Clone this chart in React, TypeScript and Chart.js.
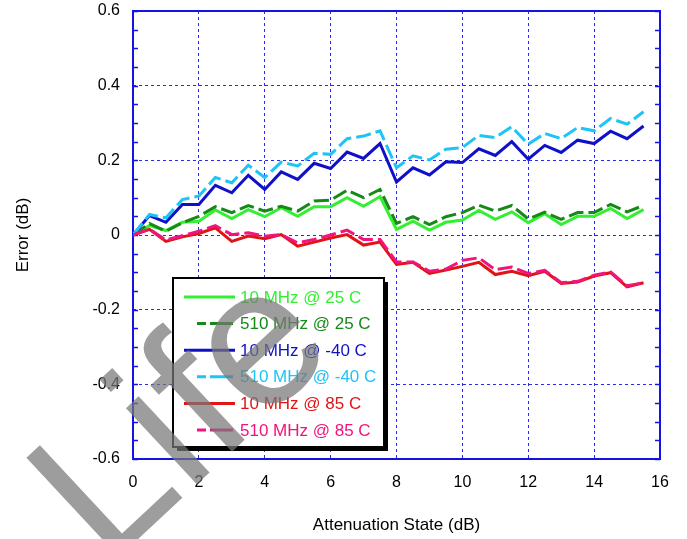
import React, { useEffect, useRef } from 'react';
import { Chart, registerables } from 'chart.js';

Chart.register(...registerables);

// Attenuation states (dB)
const ATTEN_STATES = [
  0, 0.5, 1, 1.5, 2, 2.5, 3, 3.5, 4, 4.5, 5, 5.5, 6, 6.5, 7, 7.5,
  8, 8.5, 9, 9.5, 10, 10.5, 11, 11.5, 12, 12.5, 13, 13.5, 14, 14.5, 15, 15.5,
];

const ERR_10M_25C = [
  0, 0.025, 0.012, 0.034, 0.037, 0.067, 0.044, 0.068, 0.049, 0.073, 0.05, 0.076, 0.076, 0.1, 0.077, 0.103,
  0.015, 0.037, 0.013, 0.034, 0.04, 0.066, 0.042, 0.062, 0.033, 0.057, 0.028, 0.05, 0.05, 0.071, 0.044, 0.068,
];
const ERR_510M_25C = [
  0, 0.031, 0.01, 0.033, 0.05, 0.076, 0.06, 0.079, 0.064, 0.077, 0.064, 0.091, 0.093, 0.12, 0.1, 0.122,
  0.031, 0.049, 0.028, 0.049, 0.06, 0.08, 0.064, 0.079, 0.043, 0.061, 0.042, 0.06, 0.06, 0.082, 0.062, 0.079,
];
const ERR_10M_M40C = [
  0, 0.052, 0.034, 0.082, 0.082, 0.133, 0.113, 0.16, 0.122, 0.169, 0.149, 0.192, 0.178, 0.222, 0.205, 0.245,
  0.142, 0.18, 0.161, 0.196, 0.194, 0.231, 0.213, 0.25, 0.203, 0.24, 0.221, 0.254, 0.245, 0.278, 0.258, 0.292,
];
const ERR_510M_M40C = [
  0, 0.055, 0.046, 0.095, 0.104, 0.154, 0.14, 0.187, 0.154, 0.195, 0.185, 0.219, 0.216, 0.258, 0.265, 0.279,
  0.18, 0.212, 0.201, 0.23, 0.234, 0.267, 0.261, 0.29, 0.243, 0.272, 0.258, 0.288, 0.279, 0.312, 0.297, 0.33,
];
const ERR_10M_85C = [
  0, 0.015, -0.017, -0.005, 0.004, 0.019, -0.017, -0.003, -0.01, 0.001, -0.03, -0.019, -0.008, 0.001, -0.027, -0.019,
  -0.079, -0.073, -0.103, -0.094, -0.084, -0.073, -0.106, -0.097, -0.109, -0.097, -0.13, -0.126, -0.11, -0.101, -0.139, -0.128,
];
const ERR_510M_85C = [
  0, 0.016, -0.013, -0.002, 0.01, 0.025, 0.001, 0.006, -0.003, 0.001, -0.021, -0.012, 0.0, 0.013, -0.012, -0.012,
  -0.072, -0.072, -0.097, -0.091, -0.068, -0.061, -0.093, -0.086, -0.103, -0.095, -0.128, -0.124, -0.108, -0.099, -0.136, -0.128,
];

const SERIES_LABELS = [
  '10 MHz @ 25 C',
  '510 MHz @ 25 C',
  '10 MHz @ -40 C',
  '510 MHz @ -40 C',
  '10 MHz @ 85 C',
  '510 MHz @ 85 C',
];
const SERIES_VALUES = [ERR_10M_25C, ERR_510M_25C, ERR_10M_M40C, ERR_510M_M40C, ERR_10M_85C, ERR_510M_85C];
const SERIES_COLORS = ['#33ee33', '#168a16', '#1010c8', '#1ec4f5', '#e01414', '#f0147c'];
const SERIES_DASHED = [false, true, false, true, false, true];

const X_TICK_LABELS = ['0', '2', '4', '6', '8', '10', '12', '14', '16'];
const Y_TICK_LABELS = ['-0.6', '-0.4', '-0.2', '0', '0.2', '0.4', '0.6'];
const X_TITLE = 'Attenuation State (dB)';
const Y_TITLE = 'Error (dB)';
const WATERMARK = 'Life';

const FONT = "'Liberation Sans', Arial, sans-serif";
const GRID_BLUE = '#2a2af2';
const FRAME_BLUE = '#1414e0';

const framePlugin = {
  id: 'frame',
  beforeDatasetsDraw(chart: any) {
    const { ctx, chartArea: a } = chart;
    const ys = chart.scales.y;
    ctx.save();
    ctx.strokeStyle = FRAME_BLUE;
    ctx.lineWidth = 1.5;
    ctx.setLineDash([]);
    for (let v = -0.6; v <= 0.6001; v += 0.05) {
      const py = Math.round(ys.getPixelForValue(v)) + 0.5;
      ctx.beginPath();
      ctx.moveTo(a.left, py);
      ctx.lineTo(a.left + 5, py);
      ctx.moveTo(a.right, py);
      ctx.lineTo(a.right - 5, py);
      ctx.stroke();
    }
    ctx.lineWidth = 2;
    ctx.strokeRect(a.left, a.top, a.right - a.left, a.bottom - a.top);
    ctx.restore();
  },
};

function drawLegend(chart: any) {
  const { ctx } = chart;
  const x0 = 173, y0 = 278, w = 211, h = 169;
  ctx.save();
  ctx.fillStyle = '#000';
  ctx.fillRect(x0 + 4, y0 + 4, w, h);
  ctx.fillStyle = '#fff';
  ctx.fillRect(x0, y0, w, h);
  ctx.lineWidth = 2;
  ctx.strokeStyle = '#000';
  ctx.strokeRect(x0, y0, w, h);
  chart.data.datasets.forEach((ds: any, i: number) => {
    const y = 297 + i * 26.6;
    const dashed = ds.borderDash && ds.borderDash.length > 0;
    ctx.strokeStyle = ds.borderColor;
    ctx.lineWidth = 3;
    ctx.setLineDash(dashed ? [9, 4, 40, 4] : []);
    ctx.beginPath();
    ctx.moveTo(dashed ? 197 : 184, y);
    ctx.lineTo(dashed ? 233 : 235, y);
    ctx.stroke();
    ctx.setLineDash([]);
    ctx.fillStyle = ds.borderColor;
    ctx.font = `17px ${FONT}`;
    ctx.textBaseline = 'middle';
    ctx.textAlign = 'left';
    ctx.fillText(ds.label, 240, y + 1);
  });
  ctx.restore();
}

function drawWatermark(chart: any) {
  const { ctx } = chart;
  ctx.save();
  ctx.globalAlpha = 0.72;
  ctx.translate(107, 568);
  ctx.rotate((-43 * Math.PI) / 180);
  ctx.font = `197px ${FONT}`;
  ctx.fillStyle = '#777777';
  ctx.textBaseline = 'alphabetic';
  ctx.textAlign = 'left';
  let adv = 0;
  for (const ch of WATERMARK) {
    ctx.fillText(ch, adv, 0);
    adv += ctx.measureText(ch).width;
  }
  ctx.restore();
}

const overlayPlugin = {
  id: 'overlay',
  afterDraw(chart: any) {
    drawLegend(chart);
    drawWatermark(chart);
  },
};

export default function App() {
  const ref = useRef<HTMLCanvasElement | null>(null);

  useEffect(() => {
    if (!ref.current) return;
    Chart.defaults.font.family = FONT;
    const datasets = SERIES_LABELS.map((label, i) => ({
      label,
      data: ATTEN_STATES.map((x, j) => ({ x, y: SERIES_VALUES[i][j] })),
      borderColor: SERIES_COLORS[i],
      backgroundColor: SERIES_COLORS[i],
      borderWidth: 3,
      borderDash: SERIES_DASHED[i] ? [15, 5] : [],
      pointRadius: 0,
      tension: 0,
      fill: false,
      order: SERIES_LABELS.length - i,
    }));
    const chart = new Chart(ref.current, {
      type: 'line',
      data: { datasets },
      options: {
        animation: false,
        responsive: false,
        devicePixelRatio: 1,
        layout: { padding: { left: 0, top: 0, right: 27, bottom: 0 } },
        plugins: { legend: { display: false }, tooltip: { enabled: false } },
        scales: {
          x: {
            type: 'linear',
            min: 0,
            max: 16,
            afterFit: (s: any) => { s.height = 80; s.paddingLeft = 0; s.paddingRight = 0; },
            ticks: {
              stepSize: 2,
              padding: 14,
              color: '#000',
              font: { size: 16, family: FONT },
              maxRotation: 0,
              callback: (_v: any, i: number) => X_TICK_LABELS[i],
            },
            grid: { color: GRID_BLUE, lineWidth: 1, drawTicks: false },
            border: { display: false, dash: [3, 3] },
            title: {
              display: true,
              text: X_TITLE,
              color: '#000',
              font: { size: 17, family: FONT },
              padding: { top: 0, bottom: 3 },
            },
          },
          y: {
            type: 'linear',
            min: -0.6,
            max: 0.6,
            afterFit: (s: any) => { s.width = 133; s.paddingTop = 11; s.paddingBottom = 0; },
            ticks: {
              stepSize: 0.2,
              padding: 13,
              color: '#000',
              font: { size: 16, family: FONT },
              callback: (_v: any, i: number) => Y_TICK_LABELS[i],
            },
            grid: { color: GRID_BLUE, lineWidth: 1, drawTicks: false },
            border: { display: false, dash: [3, 3] },
            title: {
              display: true,
              text: Y_TITLE,
              color: '#000',
              font: { size: 17, family: FONT },
              padding: { top: 13, bottom: 0 },
            },
          },
        },
      } as any,
      plugins: [framePlugin, overlayPlugin],
    });
    return () => chart.destroy();
  }, []);

  return (
    <div style={{ position: 'absolute', left: 0, top: 0, width: 687, height: 539, background: '#fff' }}>
      <canvas ref={ref} width={687} height={539} style={{ width: 687, height: 539, display: 'block' }} />
    </div>
  );
}
